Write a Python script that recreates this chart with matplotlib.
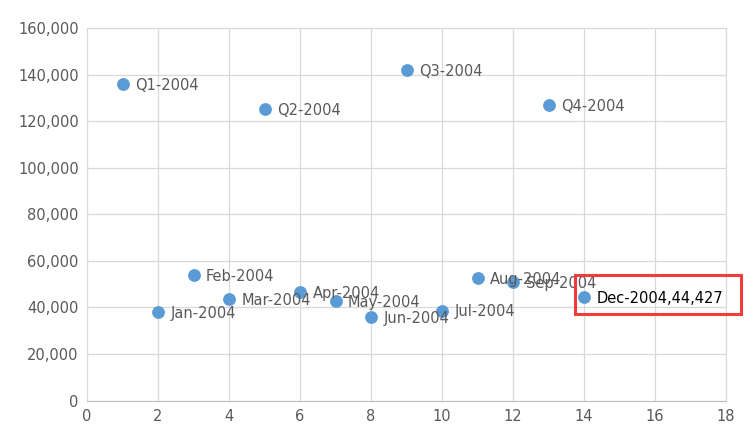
import matplotlib
matplotlib.use("Agg")
from matplotlib import pyplot as plt
from matplotlib.patches import Rectangle
from matplotlib.ticker import FuncFormatter

# data
labels = ["Q1-2004", "Jan-2004", "Feb-2004", "Mar-2004", "Q2-2004", "Apr-2004",
          "May-2004", "Jun-2004", "Q3-2004", "Jul-2004", "Aug-2004", "Sep-2004",
          "Q4-2004", "Dec-2004"]
xs = [1, 2, 3, 4, 5, 6, 7, 8, 9, 10, 11, 12, 13, 14]
ys = [135800, 38000, 54000, 43800, 125100, 46500, 42700, 36000, 142000,
      38700, 52500, 51000, 127000, 44427]

grey = "#595959"
blue = "#5B9BD5"

fig = plt.figure(figsize=(7.44, 4.36), dpi=100)
ax = fig.add_axes([0.117, 0.081, 0.859, 0.855])

ax.scatter(xs, ys, s=85, color=blue, zorder=3, linewidths=0)

for lab, x, y in zip(labels, xs, ys):
    if lab == "Dec-2004":
        txt = "%s,%s" % (lab, format(y, ","))
        col = "black"
    else:
        txt = lab
        col = grey
    ax.annotate(txt, (x, y), xytext=(9, -1), textcoords="offset points",
                va="center", ha="left", fontsize=10.5, color=col, zorder=4)

ax.set_xlim(0, 18)
ax.set_ylim(0, 160000)
ax.set_xticks(range(0, 19, 2))
ax.set_yticks(range(0, 160001, 20000))
ax.yaxis.set_major_formatter(FuncFormatter(lambda v, p: format(int(v), ",")))
ax.tick_params(length=0, labelsize=10.5, labelcolor=grey, pad=6)
ax.grid(True, color="#D9D9D9", linewidth=0.9)
ax.set_axisbelow(True)
for name, sp in ax.spines.items():
    sp.set_color("#D9D9D9")
ax.spines["bottom"].set_color("#BFBFBF")

# red highlight box around the Dec label
fig.add_artist(Rectangle((575 / 744, 1 - 314 / 436), 166 / 744, 39 / 436,
                         transform=fig.transFigure, fill=False,
                         edgecolor="#F03C3C", linewidth=2.2, zorder=5))

fig.savefig("out.png", dpi=100)
